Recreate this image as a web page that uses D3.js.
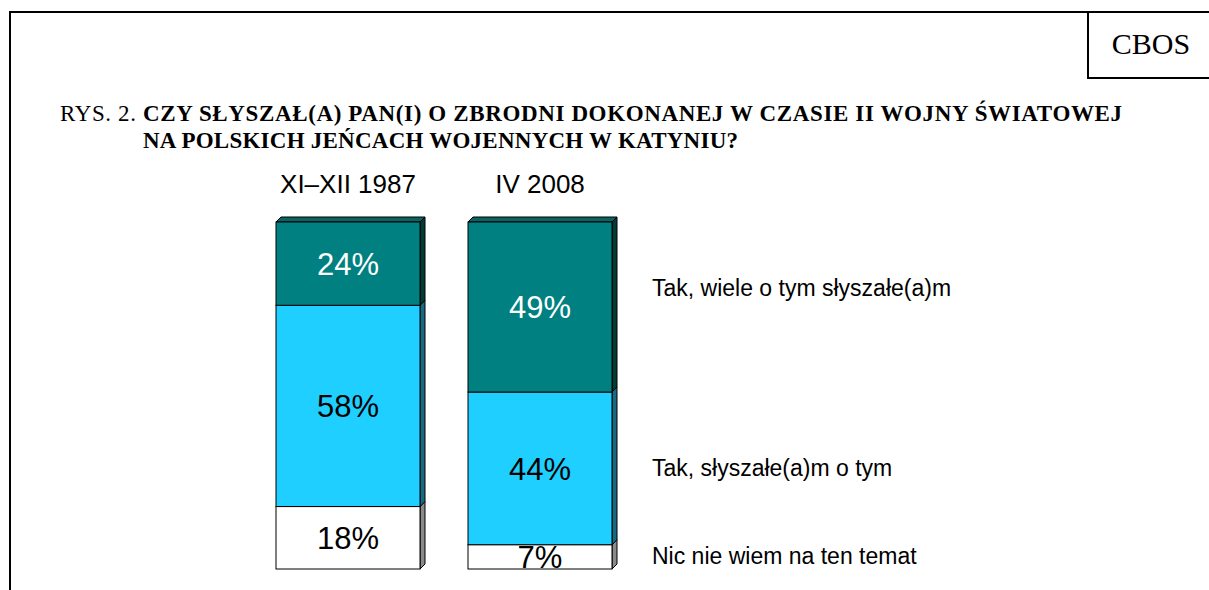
<!DOCTYPE html>
<meta charset="utf-8">
<script src="https://d3js.org/d3.v7.min.js"></script>
<style>
body { margin: 0; background: #fff; }
svg { display: block; }
.pct { font-family: Arial, "Liberation Sans", sans-serif; font-size: 31px; }
.cat { font-family: Arial, "Liberation Sans", sans-serif; font-size: 26px; }
.leg { font-family: Arial, "Liberation Sans", sans-serif; font-size: 23px; }
.title { font-family: "Times New Roman", "Liberation Serif", serif; font-size: 23px; }
</style>
<body>
<script>

// data
var categories = ["XI\u2013XII 1987", "IV 2008"]
var answers = ["Nic nie wiem na ten temat", "Tak, słyszałe(a)m o tym", "Tak, wiele o tym słyszałe(a)m"]
var values1987 = [18, 58, 24]
var values2008 = [7, 44, 49]

var width = 1209,
    height = 590

var colors = ["#ffffff", "#1fcfff", "#008080"]
var sideColors = ["#8a8a8a", "#166b84", "#033b3b"]
var topColors = ["#e0e0e0", "#1aa6cc", "#0a6262"]
var textColors = ["#000", "#000", "#fff"]
var depth = 5

var svg = d3.select("body").append("svg")
    .attr("width", width)
    .attr("height", height)

// frame + CBOS box
svg.append("path")
    .attr("d", "M10,590 V12 H1209 M1088,12 V78 H1209")
    .attr("fill", "none")
    .attr("stroke", "#000")
    .attr("stroke-width", 2)

svg.append("text")
    .attr("x", 1151)
    .attr("y", 54)
    .attr("text-anchor", "middle")
    .style("font-family", "'Times New Roman', 'Liberation Serif', serif")
    .style("font-size", "30px")
    .text("CBOS")

// title
var t1 = svg.append("text").attr("class", "title").attr("x", 60).attr("y", 121)
    .attr("textLength", 1062).attr("lengthAdjust", "spacing")
t1.append("tspan").text("RYS. 2. ")
t1.append("tspan").attr("font-weight", "bold")
    .text("CZY SŁYSZAŁ(A) PAN(I) O ZBRODNI DOKONANEJ W CZASIE II WOJNY ŚWIATOWEJ")
svg.append("text").attr("class", "title").attr("x", 143).attr("y", 148)
    .attr("font-weight", "bold")
    .attr("textLength", 595).attr("lengthAdjust", "spacing")
    .text("NA POLSKICH JEŃCACH WOJENNYCH W KATYNIU?")

var x = d3.scaleBand()
    .domain(categories)
    .range([276, 612])
    .paddingInner(0.25)

var y = d3.scaleLinear()
    .domain([0, 100])
    .range([569, 222])

var series = [values1987, values2008]

var segs = []
series.forEach(function (vals, ci) {
    var acc = 0
    vals.forEach(function (v, k) {
        segs.push({ cat: categories[ci], k: k, y0: acc, y1: acc + v, v: v, last: k == vals.length - 1 })
        acc += v
    })
})

var g = svg.append("g")

var seg = g.selectAll(".seg")
    .data(segs)
    .enter().append("g")
    .attr("class", "seg")

// right side face
seg.append("path")
    .attr("d", function (d) {
        var x1 = x(d.cat) + x.bandwidth()
        return "M" + x1 + "," + y(d.y0) + " L" + (x1 + depth) + "," + (y(d.y0) - depth) +
            " L" + (x1 + depth) + "," + (y(d.y1) - depth) + " L" + x1 + "," + y(d.y1) + "Z"
    })
    .attr("fill", function (d) { return sideColors[d.k] })
    .attr("stroke", "#000")
    .attr("stroke-width", 1)

// top face on the highest segment
seg.filter(function (d) { return d.last }).append("path")
    .attr("d", function (d) {
        var x0 = x(d.cat), x1 = x0 + x.bandwidth(), yt = y(d.y1)
        return "M" + x0 + "," + yt + " L" + (x0 + depth) + "," + (yt - depth) +
            " L" + (x1 + depth) + "," + (yt - depth) + " L" + x1 + "," + yt + "Z"
    })
    .attr("fill", function (d) { return topColors[d.k] })
    .attr("stroke", "#000")
    .attr("stroke-width", 1)

// front face
seg.append("rect")
    .attr("x", function (d) { return x(d.cat) })
    .attr("y", function (d) { return y(d.y1) })
    .attr("width", x.bandwidth())
    .attr("height", function (d) { return y(d.y0) - y(d.y1) })
    .attr("fill", function (d) { return colors[d.k] })
    .attr("stroke", "#000")
    .attr("stroke-width", 1)

seg.append("text")
    .attr("class", "pct")
    .attr("x", function (d) { return x(d.cat) + x.bandwidth() / 2 })
    .attr("y", function (d) { return (y(d.y0) + y(d.y1)) / 2 })
    .attr("dy", "0.36em")
    .attr("text-anchor", "middle")
    .attr("fill", function (d) { return textColors[d.k] })
    .text(function (d) { return d.v + "%" })

// category labels
svg.selectAll(".cat")
    .data(categories)
    .enter().append("text")
    .attr("class", "cat")
    .attr("x", function (d) { return x(d) + x.bandwidth() / 2 })
    .attr("y", 193)
    .attr("text-anchor", "middle")
    .text(function (d) { return d })

// legend labels at the right
var legendY = [556, 468, 288]
svg.selectAll(".leg")
    .data(answers)
    .enter().append("text")
    .attr("class", "leg")
    .attr("x", 652)
    .attr("y", function (d, i) { return legendY[i] })
    .attr("dy", "0.35em")
    .text(function (d) { return d })

</script>
</body>
